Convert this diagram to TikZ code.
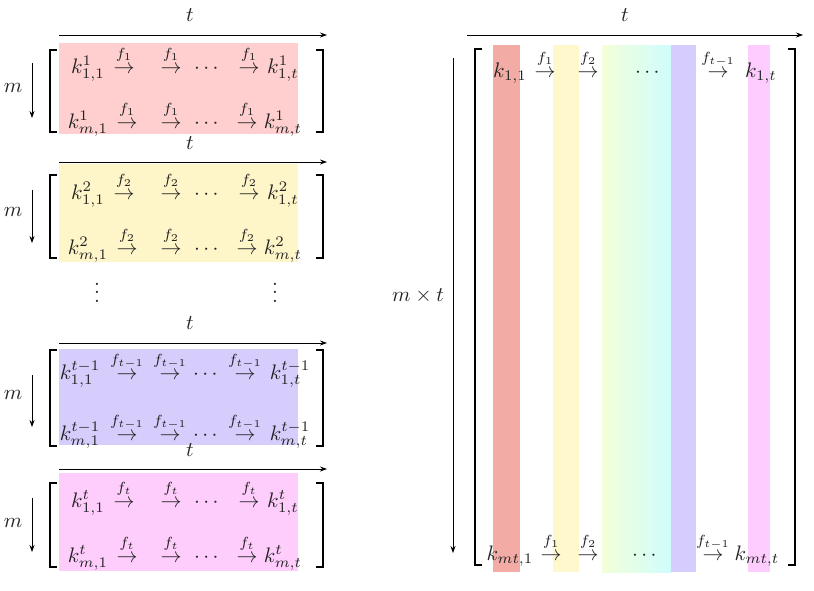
\documentclass[tikz,border=0pt]{standalone}
\usepackage{amsmath}
\usepackage{graphicx}
\usetikzlibrary{arrows.meta}
\definecolor{fillA}{HTML}{FFCECE}
\definecolor{fillB}{HTML}{FEF5C8}
\definecolor{fillC}{HTML}{D6CDFD}
\definecolor{fillD}{HTML}{FFCDFC}
\definecolor{colR}{HTML}{F2ACA5}
\definecolor{colY}{HTML}{FFF8CC}
\definecolor{colGa}{HTML}{F3FFD8}
\definecolor{colGb}{HTML}{CFFDFD}
\definecolor{colP}{HTML}{D6CCFE}
\definecolor{colK}{HTML}{FFCCFF}
\definecolor{ink}{HTML}{222222}
\newcommand\mth[1]{\scalebox{2.1}{$#1$}}
\newcommand\arr[1]{\mth{\overset{\raisebox{1.3pt}{$\scriptstyle #1$}}{\rightarrow}}}
\tikzset{
  txt/.style={inner sep=0pt, anchor=base, text=ink},
  axis/.style={-{Stealth[length=7pt,width=5pt]}, line width=0.8pt},
  brk/.style={line width=1.4pt},
}
\newcommand\drawbrackets[4]{%
  \draw[brk] (#1+7,#3) -- (#1,#3) -- (#1,#4) -- (#1+7,#4);
  \draw[brk] (#2-7,#3) -- (#2,#3) -- (#2,#4) -- (#2-7,#4);
}
\begin{document}
\begin{tikzpicture}[x=1pt,y=-1pt]
\path[use as bounding box] (0,0) rectangle (814,590);

% ---------- Block 1 ----------
\fill[fillA] (59,43) rectangle (298,134);
\drawbrackets{50}{323}{50}{132}
\coordinate (a1s) at (59,35); \coordinate (a1e) at (327,35);
\draw[axis] (a1s) -- (a1e);
\node[txt] (t1) at (190,21) {\mth{t}};
\node[txt] (m1) at (13,92) {\mth{m}};
\coordinate (v1s) at (32,63); \coordinate (v1e) at (32,118);
\draw[axis] (v1s) -- (v1e);
\node[txt] (b1k11) at (88,73) {\mth{k^1_{1,1}}};
\node[txt] (b1a11) at (124,73) {\arr{f_1}};
\node[txt] (b1a12) at (171,73) {\arr{f_1}};
\node[txt] (b1d1) at (208,73) {\mth{\cdots}};
\node[txt] (b1a13) at (249,73) {\arr{f_1}};
\node[txt] (b1k1t) at (283,73) {\mth{k^1_{1,t}}};
\node[txt] (b1km1) at (88,128) {\mth{k^1_{m,1}}};
\node[txt] (b1a21) at (127,128) {\arr{f_1}};
\node[txt] (b1a22) at (171,128) {\arr{f_1}};
\node[txt] (b1d2) at (208,128) {\mth{\cdots}};
\node[txt] (b1a23) at (247,128) {\arr{f_1}};
\node[txt] (b1kmt) at (283,128) {\mth{k^1_{m,t}}};

% ---------- Block 2 ----------
\fill[fillB] (59,164) rectangle (298,262);
\drawbrackets{50}{323}{175}{258}
\coordinate (a2s) at (59,162); \coordinate (a2e) at (327,162);
\draw[axis] (a2s) -- (a2e);
\node[txt] (t2) at (190,149) {\mth{t}};
\node[txt] (m2) at (13,216) {\mth{m}};
\coordinate (v2s) at (32,190); \coordinate (v2e) at (32,243);
\draw[axis] (v2s) -- (v2e);
\node[txt] (b2k11) at (88,199) {\mth{k^2_{1,1}}};
\node[txt] (b2a11) at (124,199) {\arr{f_2}};
\node[txt] (b2a12) at (171,199) {\arr{f_2}};
\node[txt] (b2d1) at (208,199) {\mth{\cdots}};
\node[txt] (b2a13) at (249,199) {\arr{f_2}};
\node[txt] (b2k1t) at (283,199) {\mth{k^2_{1,t}}};
\node[txt] (b2km1) at (88,254) {\mth{k^2_{m,1}}};
\node[txt] (b2a21) at (127,254) {\arr{f_2}};
\node[txt] (b2a22) at (171,254) {\arr{f_2}};
\node[txt] (b2d2) at (208,254) {\mth{\cdots}};
\node[txt] (b2a23) at (247,254) {\arr{f_2}};
\node[txt] (b2kmt) at (283,254) {\mth{k^2_{m,t}}};

% ---------- vertical dots ----------
\node[txt] (vd1) at (97,302) {\mth{\vdots}};
\node[txt] (vd2) at (275,302) {\mth{\vdots}};

% ---------- Block 3 ----------
\fill[fillC] (59,349) rectangle (298,445);
\drawbrackets{50}{323}{350}{446}
\coordinate (a3s) at (59,343); \coordinate (a3e) at (327,343);
\draw[axis] (a3s) -- (a3e);
\node[txt] (t3) at (190,329) {\mth{t}};
\node[txt] (m3) at (13,399) {\mth{m}};
\coordinate (v3s) at (32,375); \coordinate (v3e) at (32,427);
\draw[axis] (v3s) -- (v3e);
\node[txt] (b3k11) at (80,379) {\mth{k^{t-1}_{1,1}}};
\node[txt] (b3a11) at (127,379) {\arr{f_{t-1}}};
\node[txt] (b3a12) at (170,379) {\arr{f_{t-1}}};
\node[txt] (b3d1) at (207,379) {\mth{\cdots}};
\node[txt] (b3a13) at (245,379) {\arr{f_{t-1}}};
\node[txt] (b3k1t) at (290,379) {\mth{k^{t-1}_{1,t}}};
\node[txt] (b3km1) at (80,440) {\mth{k^{t-1}_{m,1}}};
\node[txt] (b3a21) at (127,440) {\arr{f_{t-1}}};
\node[txt] (b3a22) at (170,440) {\arr{f_{t-1}}};
\node[txt] (b3d2) at (207,440) {\mth{\cdots}};
\node[txt] (b3a23) at (245,440) {\arr{f_{t-1}}};
\node[txt] (b3kmt) at (290,440) {\mth{k^{t-1}_{m,t}}};

% ---------- Block 4 ----------
\fill[fillD] (59,473) rectangle (298,571);
\drawbrackets{50}{323}{483}{567}
\coordinate (a4s) at (59,469); \coordinate (a4e) at (327,469);
\draw[axis] (a4s) -- (a4e);
\node[txt] (t4) at (190,456) {\mth{t}};
\node[txt] (m4) at (13,527) {\mth{m}};
\coordinate (v4s) at (32,498); \coordinate (v4e) at (32,552);
\draw[axis] (v4s) -- (v4e);
\node[txt] (b4k11) at (88,507) {\mth{k^t_{1,1}}};
\node[txt] (b4a11) at (124,507) {\arr{f_t}};
\node[txt] (b4a12) at (171,507) {\arr{f_t}};
\node[txt] (b4d1) at (208,507) {\mth{\cdots}};
\node[txt] (b4a13) at (249,507) {\arr{f_t}};
\node[txt] (b4k1t) at (283,507) {\mth{k^t_{1,t}}};
\node[txt] (b4km1) at (88,562) {\mth{k^t_{m,1}}};
\node[txt] (b4a21) at (127,562) {\arr{f_t}};
\node[txt] (b4a22) at (171,562) {\arr{f_t}};
\node[txt] (b4d2) at (208,562) {\mth{\cdots}};
\node[txt] (b4a23) at (247,562) {\arr{f_t}};
\node[txt] (b4kmt) at (283,562) {\mth{k^t_{m,t}}};

% ---------- Right matrix ----------
\fill[colR] (493,45) rectangle (520,572);
\fill[colY] (553,45) rectangle (579,572);
\shade[left color=colGa, right color=colGb] (602,45) rectangle (671,572);
\fill[colP] (671,45) rectangle (696,572);
\fill[colK] (748,45) rectangle (770,572);
\drawbrackets{475}{795}{49}{565}
\coordinate (rts) at (467,35); \coordinate (rte) at (803,35);
\draw[axis] (rts) -- (rte);
\node[txt] (rt) at (625,21) {\mth{t}};
\coordinate (rvs) at (453,58); \coordinate (rve) at (453,553);
\draw[axis] (rvs) -- (rve);
\node[txt, anchor=center] (rm) at (418,296) {\mth{m\times t}};
\node[txt] (rk11) at (510,77) {\mth{k_{1,1}}};
\node[txt] (ra11) at (545,77) {\arr{f_1}};
\node[txt] (ra12) at (588,77) {\arr{f_2}};
\node[txt] (rd1) at (649,77) {\mth{\cdots}};
\node[txt] (ra13) at (718,77) {\arr{f_{t-1}}};
\node[txt] (rk1t) at (761,77) {\mth{k_{1,t}}};
\node[txt] (rkm1) at (510,560) {\mth{k_{mt,1}}};
\node[txt] (ra21) at (551,560) {\arr{f_1}};
\node[txt] (ra22) at (588,560) {\arr{f_2}};
\node[txt] (rd2) at (646,560) {\mth{\cdots}};
\node[txt] (ra23) at (713,560) {\arr{f_{t-1}}};
\node[txt] (rkmt) at (757,560) {\mth{k_{mt,t}}};
\end{tikzpicture}
\end{document}
